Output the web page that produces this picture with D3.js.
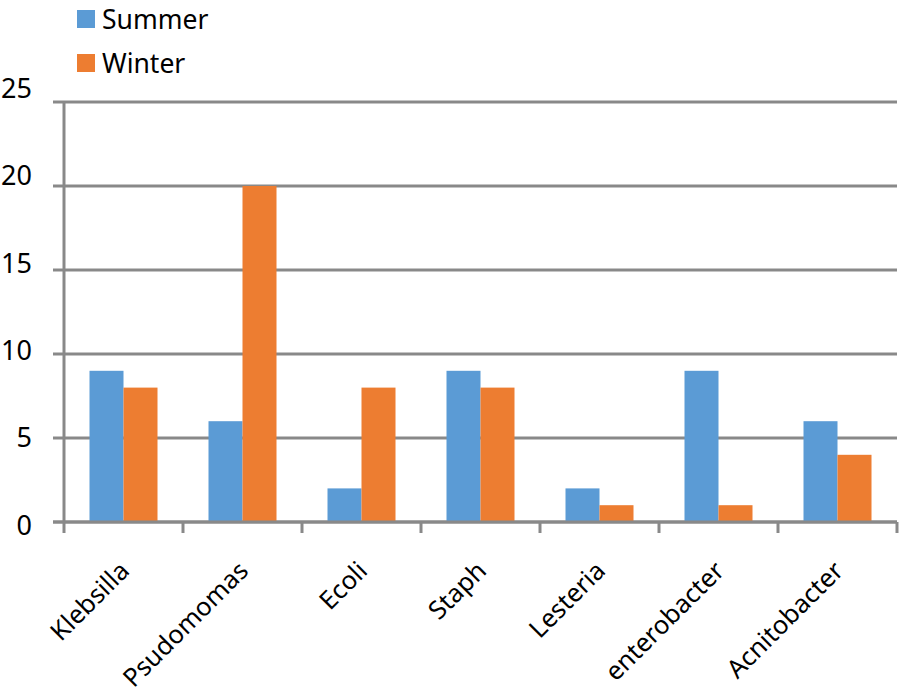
<!DOCTYPE html>
<html>
<head>
<meta charset="utf-8">
<script src="https://cdn.jsdelivr.net/npm/d3@7/dist/d3.min.js"></script>
<style>
  html, body { margin: 0; padding: 0; background: #fff; }
  svg { display: block; }
  text { font-family: "Noto Sans", "Open Sans", sans-serif; fill: #000; }
</style>
</head>
<body>
<svg id="chart" width="904" height="696"></svg>
<script>
const categories = ["Klebsilla", "Psudomomas", "Ecoli", "Staph", "Lesteria", "enterobacter", "Acnitobacter"];
const seriesNames = ["Summer", "Winter"];
const summerValues = [9, 6, 2, 9, 2, 9, 6];
const winterValues = [8, 20, 8, 8, 1, 1, 4];
const yTicks = [0, 5, 10, 15, 20, 25];
const colors = ["#5B9BD5", "#ED7D31"];

const svg = d3.select("#chart");
const plotLeft = 64, plotRight = 897, plotTop = 102, plotBottom = 522;
const gridColor = "#898989";

const x0 = d3.scaleBand().domain(categories).range([plotLeft, plotRight]).padding(0);
const bw = x0.bandwidth();
const x1 = d3.scaleBand().domain(seriesNames).range([bw * 0.2143, bw * (1 - 0.2143)]).padding(0);
const y = d3.scaleLinear().domain([0, 25]).range([plotBottom, plotTop]);
// tick labels in the reference sit on a slightly stretched scale
const yLabel = d3.scaleLinear().domain([0, 25]).range([525, 88]);
const color = d3.scaleOrdinal().domain(seriesNames).range(colors);

// gridlines
svg.append("g").selectAll("line").data(yTicks).join("line")
  .attr("x1", plotLeft - 11).attr("x2", plotRight)
  .attr("y1", d => y(d)).attr("y2", d => y(d))
  .attr("stroke", gridColor).attr("stroke-width", 3);

// vertical axis line
svg.append("line")
  .attr("x1", plotLeft).attr("x2", plotLeft)
  .attr("y1", plotTop).attr("y2", plotBottom + 11)
  .attr("stroke", gridColor).attr("stroke-width", 3);

// bottom ticks at category boundaries
const boundaries = categories.map(c => x0(c)).concat([plotRight]);
svg.append("g").selectAll("line").data(boundaries.slice(1)).join("line")
  .attr("x1", d => d).attr("x2", d => d)
  .attr("y1", plotBottom).attr("y2", plotBottom + 11)
  .attr("stroke", gridColor).attr("stroke-width", 3);

// y labels
svg.append("g").selectAll("text").data(yTicks).join("text")
  .attr("x", 32).attr("y", d => yLabel(d))
  .attr("dy", "0.36em")
  .attr("text-anchor", "end")
  .style("font-size", "27px")
  .text(d => d);

// bars
const rows = categories.map((c, i) => ({ cat: c, vals: [
  { key: "Summer", value: summerValues[i] },
  { key: "Winter", value: winterValues[i] }
]}));

const groups = svg.append("g").selectAll("g").data(rows).join("g")
  .attr("transform", d => `translate(${x0(d.cat)},0)`);
groups.selectAll("rect").data(d => d.vals).join("rect")
  .attr("x", d => x1(d.key))
  .attr("width", x1.bandwidth())
  .attr("y", d => y(d.value))
  .attr("height", d => y(0) - y(d.value))
  .attr("fill", d => color(d.key));

// redraw baseline over bars
svg.append("line")
  .attr("x1", plotLeft - 11).attr("x2", plotRight)
  .attr("y1", y(0)).attr("y2", y(0))
  .attr("stroke", gridColor).attr("stroke-width", 3);

// x labels
svg.append("g").selectAll("text").data(categories).join("text")
  .attr("transform", d => `translate(${x0(d) + bw / 2 - 6},559) rotate(-45)`)
  .attr("text-anchor", "end")
  .attr("dy", "0.74em")
  .style("font-size", "25.5px")
  .text(d => d);

// legend
const legend = svg.append("g").selectAll("g").data(seriesNames).join("g")
  .attr("transform", (d, i) => `translate(77,${10 + i * 44})`);
legend.append("rect").attr("width", 18).attr("height", 18)
  .attr("fill", d => color(d));
legend.append("text").attr("x", 25).attr("y", 9).attr("dy", "0.36em")
  .style("font-size", "26.5px")
  .text(d => d);
</script>
</body>
</html>
